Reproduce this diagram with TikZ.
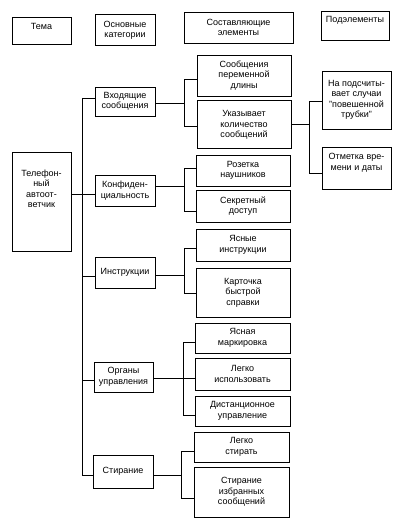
\documentclass[tikz,border=0pt]{standalone}
\usepackage{fontspec}
\setmainfont{Liberation Sans}
\begin{document}
\begin{tikzpicture}[x=1pt,y=-1pt,
  box/.style={draw, line width=0.8pt, inner sep=1pt, align=center, font=\fontsize{9}{10.5}\selectfont},
  bbox/.style={box, line width=1.0pt},
  lbl/.style={inner sep=0pt, align=center, font=\fontsize{9}{10.5}\selectfont},
  ln/.style={line width=0.8pt}]
\useasboundingbox (0,0) rectangle (409,529);
% headers
\node[box, minimum width=59pt, minimum height=27pt] (h1) at (41.5,30.5) {};
\node[lbl] (h1t) at (41.5,26) {Тема};
\node[bbox, minimum width=60pt, minimum height=31pt] (h2) at (125,30.5) {Основные\\категории};
\node[box, minimum width=109pt, minimum height=31pt] (h3) at (238.5,27.5) {Составляющие\\элементы};
\node[box, minimum width=68pt, minimum height=29pt] (h4) at (355,25.5) {};
\node[lbl] (h4t) at (355,20) {Подэлементы};
% main
\node[box, minimum width=59pt, minimum height=99pt] (main) at (41.5,201.5) {};
\node[lbl] (maint) at (41.5,189) {Телефон-\\ный\\автоот-\\ветчик};
% categories
\node[box, minimum width=60pt, minimum height=29pt] (c1) at (125,101.5) {Входящие\\сообщения};
\node[box, minimum width=60pt, minimum height=31pt] (c2) at (125,190.5) {Конфиден-\\циальность};
\node[box, minimum width=60pt, minimum height=31pt] (c3) at (125,272.5) {Инструкции};
\node[box, minimum width=59pt, minimum height=30pt] (c4) at (123.5,377) {Органы\\управления};
\node[box, minimum width=60pt, minimum height=33pt] (c5) at (123,471.5) {Стирание};
% elements
\node[box, minimum width=94pt, minimum height=41pt] (e1) at (244,75.5) {Сообщения\\переменной\\длины};
\node[bbox, minimum width=94pt, minimum height=48pt] (e2) at (244,125) {Указывает\\количество\\сообщений};
\node[box, minimum width=94pt, minimum height=31pt] (e3) at (243,170.5) {Розетка\\наушников};
\node[box, minimum width=94pt, minimum height=32pt] (e4) at (243,206) {Секретный\\доступ};
\node[box, minimum width=94pt, minimum height=32pt] (e5) at (243,245) {Ясные\\инструкции};
\node[bbox, minimum width=94pt, minimum height=49pt] (e6) at (243,292.5) {Карточка\\быстрой\\справки};
\node[box, minimum width=95pt, minimum height=30pt] (e7) at (242.5,338) {Ясная\\маркировка};
\node[box, minimum width=95pt, minimum height=32pt] (e8) at (242.5,374) {Легко\\использовать};
\node[box, minimum width=95pt, minimum height=30pt] (e9) at (242.5,411) {Дистанционное\\управление};
\node[box, minimum width=95pt, minimum height=30pt] (e10) at (241.5,447) {Легко\\стирать};
\node[box, minimum width=95pt, minimum height=50pt] (e11) at (241.5,492) {Стирание\\избранных\\сообщений};
% sub-elements
\node[box, minimum width=69pt, minimum height=58pt] (s1) at (356.5,100) {На подсчиты-\\вает случаи\\"повешенной\\трубки"};
\node[box, minimum width=69pt, minimum height=42pt] (s2) at (356.5,168) {};
\node[lbl] (s2t) at (356.5,163) {Отметка вре-\\мени и даты};
% trunk
\coordinate (t1) at (82,98);
\coordinate (t2) at (82,194);
\coordinate (t3) at (82,276);
\coordinate (t4) at (82,380);
\coordinate (t5) at (82,475);
\draw[ln] (t1) -- (t5);
\draw[ln] (main.east |- t2) -- (c2.west |- t2);
\draw[ln] (t1) -- (c1.west |- t1);
\draw[ln] (t3) -- (c3.west |- t3);
\draw[ln] (t4) -- (c4.west |- t4);
\draw[ln] (t5) -- (c5.west |- t5);
% group 1
\coordinate (b1) at (184,103);
\coordinate (b1a) at (184,79);
\coordinate (b1b) at (184,126);
\draw[ln] (c1.east |- b1) -- (b1);
\draw[ln] (e1.west |- b1a) -- (b1a) -- (b1b) -- (e2.west |- b1b);
% group 2
\coordinate (b2) at (184,186);
\coordinate (b2a) at (184,168);
\coordinate (b2b) at (184,211);
\draw[ln] (c2.east |- b2) -- (b2);
\draw[ln] (e3.west |- b2a) -- (b2a) -- (b2b) -- (e4.west |- b2b);
% group 3
\coordinate (b3) at (184,275);
\coordinate (b3a) at (184,248);
\coordinate (b3b) at (184,293);
\draw[ln] (c3.east |- b3) -- (b3);
\draw[ln] (e5.west |- b3a) -- (b3a) -- (b3b) -- (e6.west |- b3b);
% group 4
\coordinate (b4) at (183,378);
\coordinate (b4a) at (183,342);
\coordinate (b4b) at (183,415);
\draw[ln] (c4.east |- b4) -- (e8.west |- b4);
\draw[ln] (e7.west |- b4a) -- (b4a) -- (b4b) -- (e9.west |- b4b);
% group 5
\coordinate (b5) at (181,475);
\coordinate (b5a) at (181,451);
\coordinate (b5b) at (181,498);
\draw[ln] (c5.east |- b5) -- (b5);
\draw[ln] (e10.west |- b5a) -- (b5a) -- (b5b) -- (e11.west |- b5b);
% sub group
\coordinate (bs) at (309,124);
\coordinate (bsa) at (309,101);
\coordinate (bsb) at (309,173);
\draw[ln] (e2.east |- bs) -- (bs);
\draw[ln] (s1.west |- bsa) -- (bsa) -- (bsb) -- (s2.west |- bsb);
\end{tikzpicture}
\end{document}
